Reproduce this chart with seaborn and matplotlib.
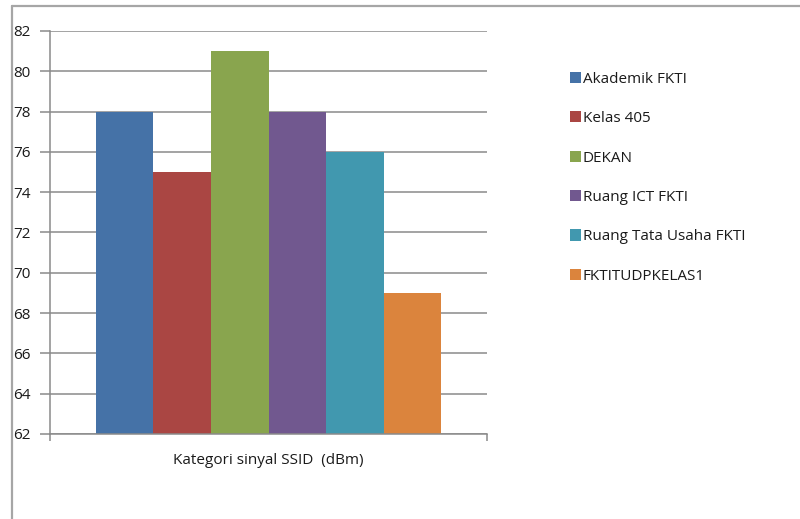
import matplotlib
matplotlib.use("Agg")
import matplotlib.pyplot as plt
from matplotlib.lines import Line2D
import pandas as pd
import seaborn as sns

category = "Kategori sinyal SSID  (dBm)"
series = ["Akademik FKTI", "Kelas 405", "DEKAN", "Ruang ICT FKTI",
          "Ruang Tata Usaha FKTI", "FKTITUDPKELAS1"]
values = [78, 75, 81, 78, 76, 69]
colors = ["#4572A7", "#AA4643", "#89A54E", "#71588F", "#4198AF", "#DB843D"]
yticks = list(range(62, 83, 2))

df = pd.DataFrame({"kategori": [category] * len(series),
                   "ssid": series,
                   "nilai": values})

sns.set_theme(style="white")
plt.rcParams["font.family"] = ["Open Sans", "DejaVu Sans"]
FS = 11.0
TXT = "#1a1a1a"

fig = plt.figure(figsize=(8.0, 5.19), dpi=100)
ax = fig.add_axes([0.0625, 0.1638, 0.54625, 0.7765])

sns.barplot(data=df, x="kategori", y="nilai", hue="ssid", hue_order=series,
            palette=colors, width=0.79, linewidth=0, saturation=1,
            ax=ax, legend=True)

ax.set_ylim(62, 82)
ax.set_xlim(-0.5, 0.5)
ax.set_yticks(yticks)
ax.set_yticklabels([str(t) for t in yticks], fontsize=FS, color=TXT)
ax.yaxis.grid(True, color="#8a8a8a", linewidth=1.1)
ax.set_axisbelow(True)

# category boundary ticks + centred category label
ax.set_xticks([-0.5, 0.5])
ax.set_xticklabels(["", ""])
ax.set_xticks([0], labels=[category], minor=True)
ax.tick_params(axis="x", which="major", direction="out", length=5,
               width=1.1, color="#8a8a8a", bottom=True)
ax.tick_params(axis="x", which="minor", length=0, pad=14, labelsize=FS,
               labelcolor=TXT)
ax.tick_params(axis="y", direction="out", length=7, width=1.1,
               color="#8a8a8a", left=True, pad=7)
ax.set_xlabel("")
ax.set_ylabel("")

for side in ["top", "right"]:
    ax.spines[side].set_visible(False)
for side in ["left", "bottom"]:
    ax.spines[side].set_color("#8a8a8a")
    ax.spines[side].set_linewidth(1.1)

handles, labels = ax.get_legend_handles_labels()
ax.legend(handles, labels, loc="upper left",
          bbox_to_anchor=(0.7125, 0.862), bbox_transform=fig.transFigure,
          frameon=False, fontsize=FS, handlelength=0.75, handleheight=0.75,
          handletextpad=0.1, labelspacing=1.6, borderpad=0, borderaxespad=0,
          labelcolor=TXT)

# outer chart frame (top and left edges)
fig.add_artist(Line2D([0.015, 1.0], [0.9884, 0.9884], transform=fig.transFigure,
                      color="#a6a6a6", linewidth=1.6))
fig.add_artist(Line2D([0.015, 0.015], [0.0, 0.9884], transform=fig.transFigure,
                      color="#a6a6a6", linewidth=1.6))

fig.savefig("out.png", dpi=100)
